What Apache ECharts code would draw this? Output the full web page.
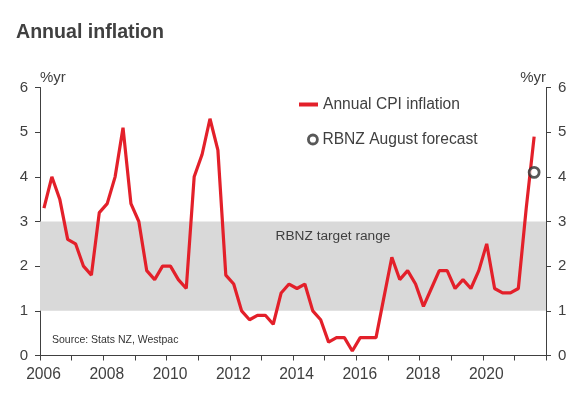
<!DOCTYPE html>
<html>
<head>
<meta charset="utf-8">
<script src="https://cdn.jsdelivr.net/npm/echarts@6/dist/echarts.min.js"></script>
<style>
html,body{margin:0;padding:0;background:#fff;}
#chart{width:583px;height:393px;}
</style>
</head>
<body>
<div id="chart"></div>
<script>
// Quarterly annual CPI inflation (%), 2006 Q1 .. 2021 Q3
const startYear = 2006;
const cpiInflation = [
  3.3, 4.0, 3.5, 2.6,   // 2006
  2.5, 2.0, 1.8, 3.2,   // 2007
  3.4, 4.0, 5.1, 3.4,   // 2008
  3.0, 1.9, 1.7, 2.0,   // 2009
  2.0, 1.7, 1.5, 4.0,   // 2010
  4.5, 5.3, 4.6, 1.8,   // 2011
  1.6, 1.0, 0.8, 0.9,   // 2012
  0.9, 0.7, 1.4, 1.6,   // 2013
  1.5, 1.6, 1.0, 0.8,   // 2014
  0.3, 0.4, 0.4, 0.1,   // 2015
  0.4, 0.4, 0.4, 1.3,   // 2016
  2.2, 1.7, 1.9, 1.6,   // 2017
  1.1, 1.5, 1.9, 1.9,   // 2018
  1.5, 1.7, 1.5, 1.9,   // 2019
  2.5, 1.5, 1.4, 1.4,   // 2020
  1.5, 3.3, 4.9         // 2021
];
const forecastYear = 2021, forecastQuarter = 3;
const forecastValue = [4.1];
const targetRange = [1, 3];
const yTicks = [0, 1, 2, 3, 4, 5, 6];
const xLabelYears = [2006, 2008, 2010, 2012, 2014, 2016, 2018, 2020];

function qPos(year, q) { return year + (q - 1) / 4 + 0.125; }
const lineData = cpiInflation.map((v, i) => [qPos(startYear + Math.floor(i / 4), (i % 4) + 1), v]);
const fcData = forecastValue.map(v => [qPos(forecastYear, forecastQuarter), v]);

const FONT = 'Liberation Sans';
const TXT = '#404040';

const chart = echarts.init(document.getElementById('chart'), null, {renderer: 'canvas'});
const yAxisCommon = {
  type: 'value', min: yTicks[0], max: yTicks[yTicks.length - 1], interval: 1,
  axisLine: {show: true, lineStyle: {color: '#404040', width: 1}},
  axisTick: {show: true, length: 5, lineStyle: {color: '#404040'}},
  splitLine: {show: false},
  axisLabel: {color: TXT, fontSize: 15, fontFamily: FONT, margin: 12},
  name: '%yr', nameLocation: 'end', nameGap: 2,
};
chart.setOption({
  animation: false,
  backgroundColor: '#fff',
  title: [
    {text: 'Annual inflation', left: 16, top: 22.5, padding: 0,
     textStyle: {fontFamily: FONT, fontWeight: 'bold', fontSize: 19.6, color: TXT}},
    {text: 'Source: Stats NZ, Westpac', left: 52, top: 335, padding: 0,
     textStyle: {fontFamily: FONT, fontWeight: 'normal', fontSize: 10.5, color: '#333'}}
  ],
  legend: [
    {data: [{name: 'Annual CPI inflation', icon: 'rect'}], left: 299, top: 96.5, padding: 0,
     itemWidth: 19, itemHeight: 4,
     textStyle: {fontFamily: FONT, fontSize: 15.6, color: TXT}},
    {data: [{name: 'RBNZ August forecast', icon: 'circle'}], left: 307, top: 131.5, padding: 0,
     itemWidth: 9, itemHeight: 9,
     itemStyle: {color: '#fff', borderColor: '#2e2e2e', borderWidth: 2.8},
     textStyle: {fontFamily: FONT, fontSize: 15.6, color: TXT}}
  ],
  grid: {left: 40, right: 37, top: 87.5, bottom: 37.5},
  xAxis: {
    type: 'value', min: 2006, max: 2022, interval: 1,
    axisLine: {show: true, onZero: false, lineStyle: {color: '#404040', width: 1}},
    axisTick: {show: true, length: 5, lineStyle: {color: '#404040'}},
    splitLine: {show: false},
    axisLabel: {
      color: TXT, fontSize: 15.6, fontFamily: FONT, margin: 11, padding: [0, 0, 0, 7],
      showMaxLabel: true,
      formatter: v => xLabelYears.includes(v) ? String(v) : ''
    }
  },
  yAxis: [
    Object.assign({}, yAxisCommon, {position: 'left',
      nameTextStyle: {color: TXT, fontSize: 15, fontFamily: FONT, align: 'left', verticalAlign: 'bottom'}}),
    Object.assign({}, yAxisCommon, {position: 'right',
      nameTextStyle: {color: TXT, fontSize: 15, fontFamily: FONT, align: 'right', verticalAlign: 'bottom'}})
  ],
  series: [
    {
      name: 'Annual CPI inflation', type: 'line', data: lineData,
      showSymbol: false, symbol: 'none',
      lineStyle: {color: '#e3202a', width: 3.2},
      itemStyle: {color: '#e3202a'},
      z: 3,
      markArea: {
        silent: true,
        itemStyle: {color: '#d9d9d9'},
        label: {show: true, position: 'insideTop', distance: 8, offset: [40, 0],
                color: TXT, fontSize: 13.7, fontFamily: FONT},
        data: [[{name: 'RBNZ target range', yAxis: targetRange[0]}, {yAxis: targetRange[1]}]]
      }
    },
    {
      name: 'RBNZ August forecast', type: 'scatter', data: fcData,
      symbol: 'circle', symbolSize: 10,
      itemStyle: {color: '#fff', borderColor: '#2e2e2e', borderWidth: 2.8},
      z: 5
    }
  ]
});
</script>
</body>
</html>
